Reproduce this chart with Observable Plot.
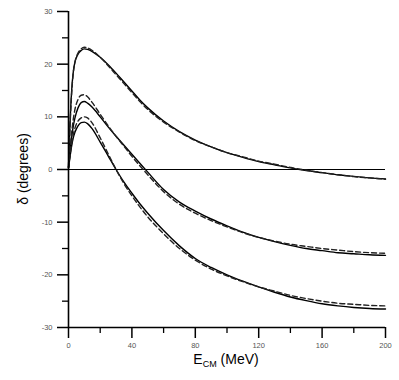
<!DOCTYPE html>
<html>
<head>
<meta charset="utf-8">
<script src="https://cdn.jsdelivr.net/npm/d3@7"></script>
<script src="https://cdn.jsdelivr.net/npm/@observablehq/plot@0.6"></script>
<style>
  html, body { margin: 0; padding: 0; background: #fff; }
  #chart { width: 399px; height: 380px; }
</style>
</head>
<body>
<div id="chart"></div>
<script>
// Energy grid (MeV)
const energy = [0,1,2,3,4,6,8,10,12,15,20,25,30,35,40,45,50,60,70,80,90,100,110,120,130,140,150,160,170,180,190,200];

// Phase shifts (degrees)
const topSolid = [0.5,9,15,18.5,20.3,21.9,22.6,22.9,22.8,22.4,21.3,19.9,18.3,16.6,14.9,13.2,11.7,9.2,7.2,5.6,4.3,3.2,2.3,1.5,0.9,0.3,-0.2,-0.6,-1.0,-1.3,-1.6,-1.8];
const topDashed = [0.5,8.5,14.5,18.3,20.3,22.1,22.9,23.2,23.1,22.6,21.3,19.7,18.0,16.3,14.6,12.9,11.4,9.0,7.1,5.5,4.3,3.2,2.4,1.6,1.0,0.4,-0.15,-0.6,-1.0,-1.35,-1.6,-1.85];
const midSolid = [0.3,3.5,6.2,8.2,9.7,11.7,12.7,12.9,12.6,11.8,10.0,8.1,6.3,4.6,2.9,1.2,-0.5,-3.8,-6.2,-7.9,-9.4,-10.7,-11.9,-12.9,-13.7,-14.4,-15.0,-15.4,-15.8,-16.0,-16.2,-16.3];
const midDashed = [0.3,3.8,7.0,9.5,11.3,13.3,14.1,14.2,13.8,12.7,10.5,8.3,6.3,4.4,2.5,0.7,-1.0,-4.2,-6.6,-8.3,-9.7,-10.9,-12.0,-12.9,-13.6,-14.2,-14.6,-15.0,-15.3,-15.6,-15.8,-15.9];
const lowSolid = [0.3,2.5,4.5,6.0,7.0,8.3,8.9,9.0,8.7,7.7,5.2,2.6,0.0,-2.4,-4.5,-6.5,-8.3,-11.6,-14.5,-16.9,-18.6,-20.0,-21.2,-22.3,-23.3,-24.2,-24.9,-25.5,-25.9,-26.2,-26.4,-26.5];
const lowDashed = [0.3,2.7,4.9,6.6,7.8,9.2,9.8,10.0,9.8,8.8,6.0,3.0,0.0,-2.7,-5.0,-7.1,-9.0,-12.2,-15.0,-17.2,-18.9,-20.2,-21.3,-22.3,-23.1,-23.9,-24.5,-25.0,-25.4,-25.6,-25.8,-25.9];

// Axis ticks
const xMajor = [0,40,80,120,160,200];
const xMinor = [20,60,100,140,180];
const yMajor = [-30,-20,-10,0,10,20,30];
const yMinor = [-25,-15,-5,5,15,25];

const toRows = (ys) => energy.map((e, i) => ({e, d: ys[i]}));
const solidSeries = [topSolid, midSolid, lowSolid];
const dashedSeries = [topDashed, midDashed, lowDashed];

const font = "Liberation Sans, Arial, sans-serif";

const marks = [
  Plot.ruleY([0], {stroke: "black", strokeWidth: 1.2}),
  ...solidSeries.map(s => Plot.line(toRows(s), {x: "e", y: "d", curve: "monotone-x", stroke: "black", strokeWidth: 1.4})),
  ...dashedSeries.map(s => Plot.line(toRows(s), {x: "e", y: "d", curve: "monotone-x", stroke: "#222", strokeWidth: 1.4, strokeDasharray: "5,3"})),
  Plot.ruleX([0], {stroke: "black", strokeWidth: 1.6}),
  Plot.ruleY([-30], {stroke: "black", strokeWidth: 1.6}),
  Plot.axisX(xMajor, {tickSize: 11, tickPadding: 4, fontSize: 7.5, fill: "#555", stroke: "black", strokeWidth: 1.5, tickFormat: d => String(d), label: null}),
  Plot.axisX(xMinor, {tickSize: 6, tickFormat: () => "", stroke: "black", strokeWidth: 1.3, label: null}),
  Plot.axisY(yMajor, {tickSize: 11, tickPadding: 5, fontSize: 7.5, fill: "#555", stroke: "black", strokeWidth: 1.5, tickFormat: d => String(d), label: null}),
  Plot.axisY(yMinor, {tickSize: 6, tickFormat: () => "", stroke: "black", strokeWidth: 1.3, label: null})
];

const chart = Plot.plot({
  width: 399,
  height: 380,
  marginLeft: 68,
  marginRight: 14,
  marginTop: 11,
  marginBottom: 53,
  style: {fontFamily: font, background: "white"},
  x: {domain: [0, 200]},
  y: {domain: [-30, 30]},
  marks
});

const svg = d3.select(chart);
// x-axis title with subscript
const xt = svg.append("text")
  .attr("x", 226).attr("y", 364)
  .attr("text-anchor", "middle")
  .attr("font-family", font)
  .attr("font-size", 14)
  .attr("fill", "black");
xt.append("tspan").text("E");
xt.append("tspan").attr("font-size", 9).attr("dy", 3).text("CM");
xt.append("tspan").attr("dy", -3).text(" (MeV)");

// y-axis title
svg.append("text")
  .attr("transform", "translate(28,169) rotate(-90)")
  .attr("text-anchor", "middle")
  .attr("font-family", font)
  .attr("font-size", 14)
  .attr("fill", "black")
  .text("δ (degrees)");

document.getElementById("chart").appendChild(chart);
</script>
</body>
</html>
